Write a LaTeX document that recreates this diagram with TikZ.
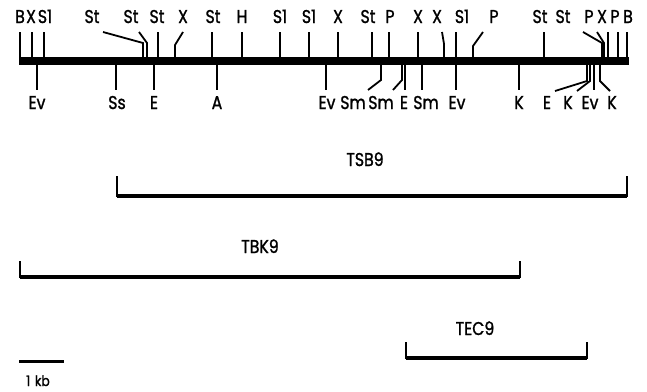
\documentclass[tikz,border=0pt]{standalone}
\usepackage{fontspec}
\setmainfont{Poppins}
\newfontfamily\lblfont{Poppins}[FakeBold=1.3,FakeStretch=0.85]
\begin{document}
\begin{tikzpicture}[x=1pt,y=-1pt,
  lab/.style={font=\lblfont\fontsize{18.5}{18.5}\selectfont, inner sep=0pt, anchor=base},
  tk/.style={line width=1.8pt},
  frag/.style={line width=4pt},
  fragend/.style={line width=2pt}]
\useasboundingbox (0,0) rectangle (647,391);
% main bar
\fill (19,57) rectangle (629,65);
% top labels (baseline y=23)
\foreach \x/\t in {20/B,31/X,45/S1,92/St,131/St,157/St,183/X,213/St,242/H,280/S1,309/S1,338/X,368/St,390/P,418/X,437/X,462/S1,494/P,540/St,563/St,589/P,602/X,615/P,628/B}
  \node[lab] at (\x,23) {\t};
% top straight ticks
\foreach \x in {20,32,44,158,212,242,280,309,338,372,389,418,456,544,608,618,627}
  \draw[tk] (\x,57) -- (\x,32);
% top bent ticks
\draw[tk] (143,57) -- (143,43) -- (103,32);
\draw[tk] (147,57) -- (147,43) -- (139,32);
\draw[tk] (175,57) -- (175,45) -- (183,32);
\draw[tk] (444,57) -- (444,44) -- (442,32);
\draw[tk] (473,57) -- (473,46) -- (483,32);
\draw[tk] (602,57) -- (602,43) -- (583,32);
\draw[tk] (604,57) -- (604,43) -- (597,32);
% bottom labels (baseline y=109)
\foreach \x/\t in {37/Ev,117/Ss,154/E,217/A,327/Ev,353/Sm,381/Sm,404/E,426/Sm,457/Ev,519/K,547/E,568/K,590/Ev,612/K}
  \node[lab] at (\x,109) {\t};
% bottom straight ticks
\foreach \x in {37,116,154,217,326,405,422,456,519,594}
  \draw[tk] (\x,65) -- (\x,90);
% bottom bent ticks
\draw[tk] (381,65) -- (381,80) -- (368,90);
\draw[tk] (402,65) -- (402,80) -- (393,90);
\draw[tk] (587,65) -- (587,81) -- (555,91);
\draw[tk] (590,65) -- (590,81) -- (577,91);
\draw[tk] (600,65) -- (600,81) -- (610,91);
% fragments
\draw[frag] (117,196) -- (627,196);
\draw[fragend] (117,197) -- (117,176) (627,197) -- (627,176);
\node[lab] at (365,166) {TSB9};
\draw[frag] (20,277) -- (520,277);
\draw[fragend] (20,278) -- (20,261) (520,278) -- (520,261);
\node[lab] at (260,253) {TBK9};
\draw[frag] (406,358) -- (587,358);
\draw[fragend] (406,359) -- (406,342) (587,359) -- (587,342);
\node[lab] at (475,335) {TEC9};
% scale
\draw[line width=3pt] (19,361) -- (64,361);
\node[lab, font=\lblfont\fontsize{14.5}{14.5}\selectfont] at (38,386) {1\,\,kb};
\end{tikzpicture}
\end{document}
